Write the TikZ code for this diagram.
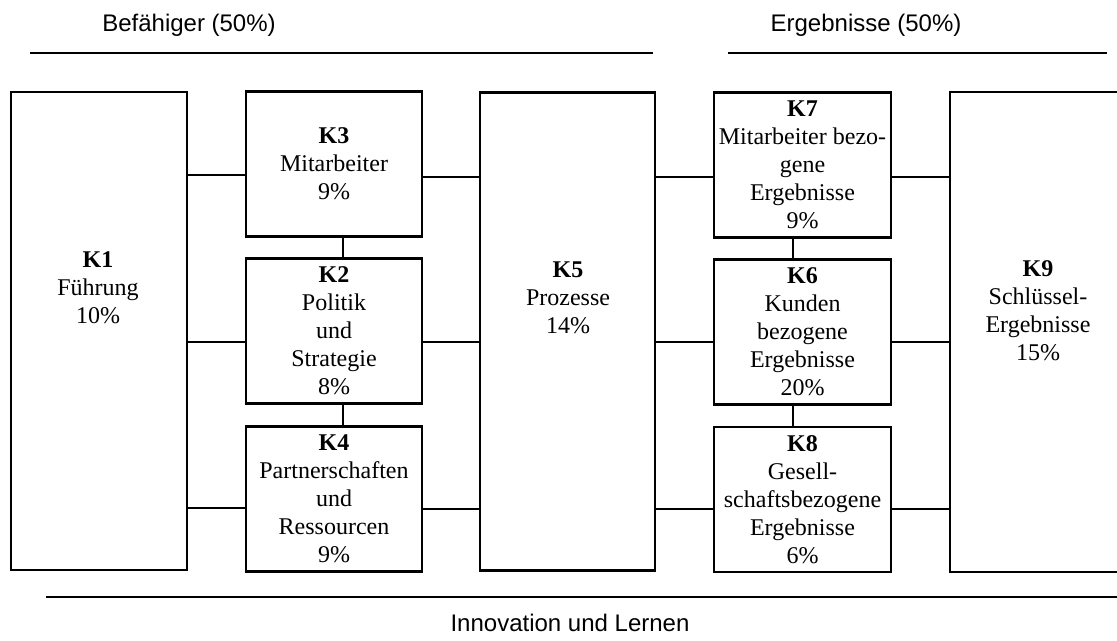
\documentclass[tikz,border=0pt]{standalone}
\usepackage{fontspec}
\setmainfont{Liberation Serif}
\newfontfamily\headfont{Liberation Sans}
\usetikzlibrary{calc}
\tikzset{
  kbox/.style={draw, rectangle, line width=1.2pt, inner sep=0pt, align=center,
    font=\fontsize{12}{14}\selectfont},
  kbig/.style={kbox, minimum width=88pt, minimum height=239pt},
  ksmall/.style={kbox, minimum width=88pt, minimum height=72.5pt},
  ktext/.style={align=center, inner sep=0pt, font=\fontsize{12}{14}\selectfont},
  head/.style={inner sep=0pt, font=\headfont\fontsize{12}{14}\selectfont},
  link/.style={line width=1pt},
}

\begin{document}
\begin{tikzpicture}[x=0.5pt,y=-0.5pt]
        \useasboundingbox (0,0) rectangle (1117,641);
        % Befaehiger
        \node[kbig] (k1) at (99,331) {};
        \node[ksmall] (k3) at (334,164) {\textbf{K3}\\Mitarbeiter\\9\%};
        \node[ksmall] (k2) at (334,331) {\textbf{K2}\\Politik\\und\\Strategie\\8\%};
        \node[ksmall] (k4) at (334,499) {\textbf{K4}\\Partnerschaften\\und\\Ressourcen\\9\%};
        \node[kbig, minimum width=87.5pt] (k5) at (567.5,331.5) {};
        % Ergebnisse
        \node[ksmall, minimum width=88.5pt] (k7) at (802.5,165) {\textbf{K7}\\Mitarbeiter bezo-\\gene\\Ergebnisse\\9\%};
        \node[ksmall, minimum width=88.5pt] (k6) at (802.5,332) {\textbf{K6}\\Kunden\\bezogene\\Ergebnisse\\20\%};
        \node[ksmall, minimum width=88.5pt] (k8) at (802.5,499.5) {\textbf{K8}\\Gesell-\\schaftsbezogene\\Ergebnisse\\6\%};
        \node[kbig, minimum width=90pt, minimum height=240pt] (k9) at (1040,332) {};
        \node[ktext] (k1txt) at (98,288) {\textbf{K1}\\F\"uhrung\\10\%};
        \node[ktext] (k5txt) at (568,298) {\textbf{K5}\\Prozesse\\14\%};
        \node[ktext] (k9txt) at (1038,311) {\textbf{K9}\\Schl\"ussel-\\Ergebnisse\\15\%};
        \foreach \a/\b/\y in {k1/k3/175, k1/k2/342, k1/k4/508,
                              k3/k5/177, k2/k5/342, k4/k5/509,
                              k5/k7/177, k5/k6/342, k5/k8/509,
                              k7/k9/177, k6/k9/342, k8/k9/509}
          \draw[link] (\a.east |- 0,\y) -- (\b.west |- 0,\y);
        \draw[link] ([xshift=4.5pt]k3.south) -- ([xshift=4.5pt]k2.north);
        \draw[link] ([xshift=4.5pt]k2.south) -- ([xshift=4.5pt]k4.north);
        \draw[link] ([xshift=-4.75pt]k7.south) -- ([xshift=-4.75pt]k6.north);
        \draw[link] ([xshift=-4.75pt]k6.south) -- ([xshift=-4.75pt]k8.north);
        % Kopf- und Fusszeile
        \draw[link] (30,53) -- (653,53);
        \draw[link] (728,53) -- (1107,53);
        \draw[link] (46,597) -- (1117,597);
        \node[head] (befaehiger) at (189,25) {Bef\"ahiger (50\%)};
        \node[head] (ergebnisse) at (866,25) {Ergebnisse (50\%)};
        \node[head] (innovation) at (570,623) {Innovation und Lernen};
      \end{tikzpicture}
\end{document}
